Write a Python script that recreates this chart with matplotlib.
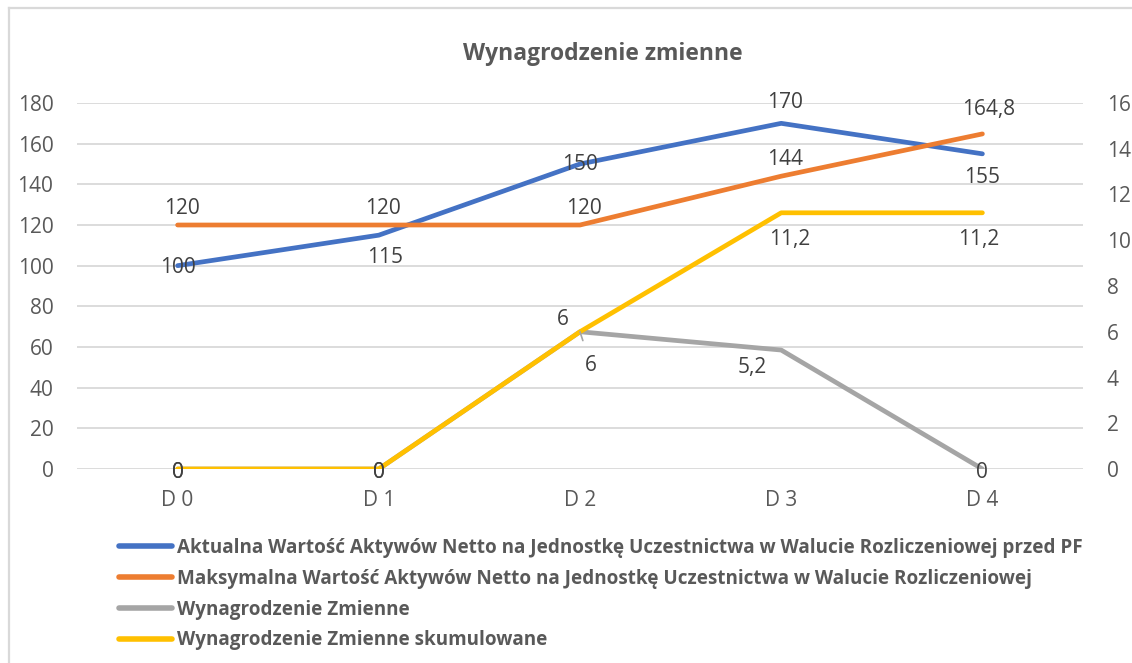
import matplotlib
matplotlib.use("Agg")
import matplotlib.pyplot as plt
from matplotlib.lines import Line2D

plt.rcParams["font.family"] = ["Open Sans", "DejaVu Sans"]

categories = ["D 0", "D 1", "D 2", "D 3", "D 4"]
aktualna = [100, 115, 150, 170, 155]
maksymalna = [120, 120, 120, 144, 164.8]
wynagrodzenie = [0, 0, 6, 5.2, 0]
skumulowane = [0, 0, 6, 11.2, 11.2]

left_ticks = list(range(0, 181, 20))
right_ticks = list(range(0, 17, 2))

names = [
    "Aktualna Wartość Aktywów Netto na Jednostkę Uczestnictwa w Walucie Rozliczeniowej przed PF",
    "Maksymalna Wartość Aktywów Netto na Jednostkę Uczestnictwa w Walucie Rozliczeniowej",
    "Wynagrodzenie Zmienne",
    "Wynagrodzenie Zmienne skumulowane",
]
colors = ["#4472C4", "#ED7D31", "#A5A5A5", "#FFC000"]

# label offsets in pixels (dx, dy), one per point
off_akt = [(0, -2), (6, -22), (0, -1), (4, 21), (0, -24)]
off_max = [(4, 16), (4, 16), (4, 16), (4, 17), (6, 24)]
off_wyn = [(0, -3), (0, -3), (-17, 12), (-29, -17), (0, -3)]
off_sku = [(0, -3), (0, -3), (11, -34), (8, -27), (-4, -27)]

TXT = "#595959"
GRID = "#D9D9D9"

fig = plt.figure(figsize=(11.32, 6.63), dpi=100)
fig.patch.set_facecolor("white")
ax = fig.add_axes([77 / 1132, 1 - 469 / 663, (1083 - 77) / 1132, (469 - 103) / 663])
ax2 = ax.twinx()

x = list(range(len(categories)))
style = dict(lw=3.4, solid_capstyle="round", solid_joinstyle="round")

ax.plot(x, aktualna, color=colors[0], zorder=3, **style)
ax.plot(x, maksymalna, color=colors[1], zorder=3, **style)
ax2.plot(x, wynagrodzenie, color=colors[2], zorder=3, **style)
ax2.plot(x, skumulowane, color=colors[3], zorder=4, **style)


def fmt(v):
    return f"{v:g}".replace(".", ",")


def labels(a, vals, offs, leader=None):
    for i, (v, (dx, dy)) in enumerate(zip(vals, offs)):
        kw = {}
        if leader is not None and i == leader:
            kw["arrowprops"] = dict(arrowstyle="-", color="#A5A5A5", lw=1.2, shrinkA=9, shrinkB=0)
        a.annotate(fmt(v), (i, v), xytext=(dx, dy), textcoords="offset pixels",
                   ha="center", va="center", fontsize=15, color="#404040", zorder=6, **kw)


labels(ax, aktualna, off_akt)
labels(ax, maksymalna, off_max)
labels(ax2, wynagrodzenie, off_wyn)
labels(ax2, skumulowane, off_sku, leader=2)

ax.set_xlim(-0.5, len(categories) - 0.5)
ax.set_ylim(0, 180)
ax2.set_ylim(0, 16)
ax.set_yticks(left_ticks)
ax2.set_yticks(right_ticks)
ax.set_xticks(x)
ax.set_xticklabels(categories)

ax.grid(axis="y", color=GRID, lw=1.3)
ax.set_axisbelow(True)
for a in (ax, ax2):
    for sp in a.spines.values():
        sp.set_visible(False)
    a.tick_params(length=0, colors=TXT, labelsize=15)
ax.tick_params(axis="y", pad=17)
ax2.tick_params(axis="y", pad=17)
ax.tick_params(axis="x", pad=15)

fig.text(603 / 1132, 1 - 54 / 663, "Wynagrodzenie zmienne", ha="center", va="center",
         fontsize=16.5, fontweight="bold", color=TXT)

handles = [Line2D([], [], color=c, lw=4, solid_capstyle="round") for c in colors]
leg = fig.legend(handles, names, loc="upper left", bbox_to_anchor=(119 / 1132, 1 - 538 / 663),
                 frameon=False, fontsize=13.6, handlelength=2.8, handletextpad=0.25,
                 labelspacing=0.57, borderaxespad=0, borderpad=0)
for t in leg.get_texts():
    t.set_color(TXT)
    t.set_fontweight("bold")

# chart border (top and left edges visible)
fig.add_artist(Line2D([9 / 1132, 9 / 1132], [0, 1 - 8 / 663], color=GRID, lw=1.6, transform=fig.transFigure))
fig.add_artist(Line2D([9 / 1132, 1], [1 - 8 / 663, 1 - 8 / 663], color=GRID, lw=1.6, transform=fig.transFigure))

fig.savefig("out.png", dpi=100, facecolor="white")
